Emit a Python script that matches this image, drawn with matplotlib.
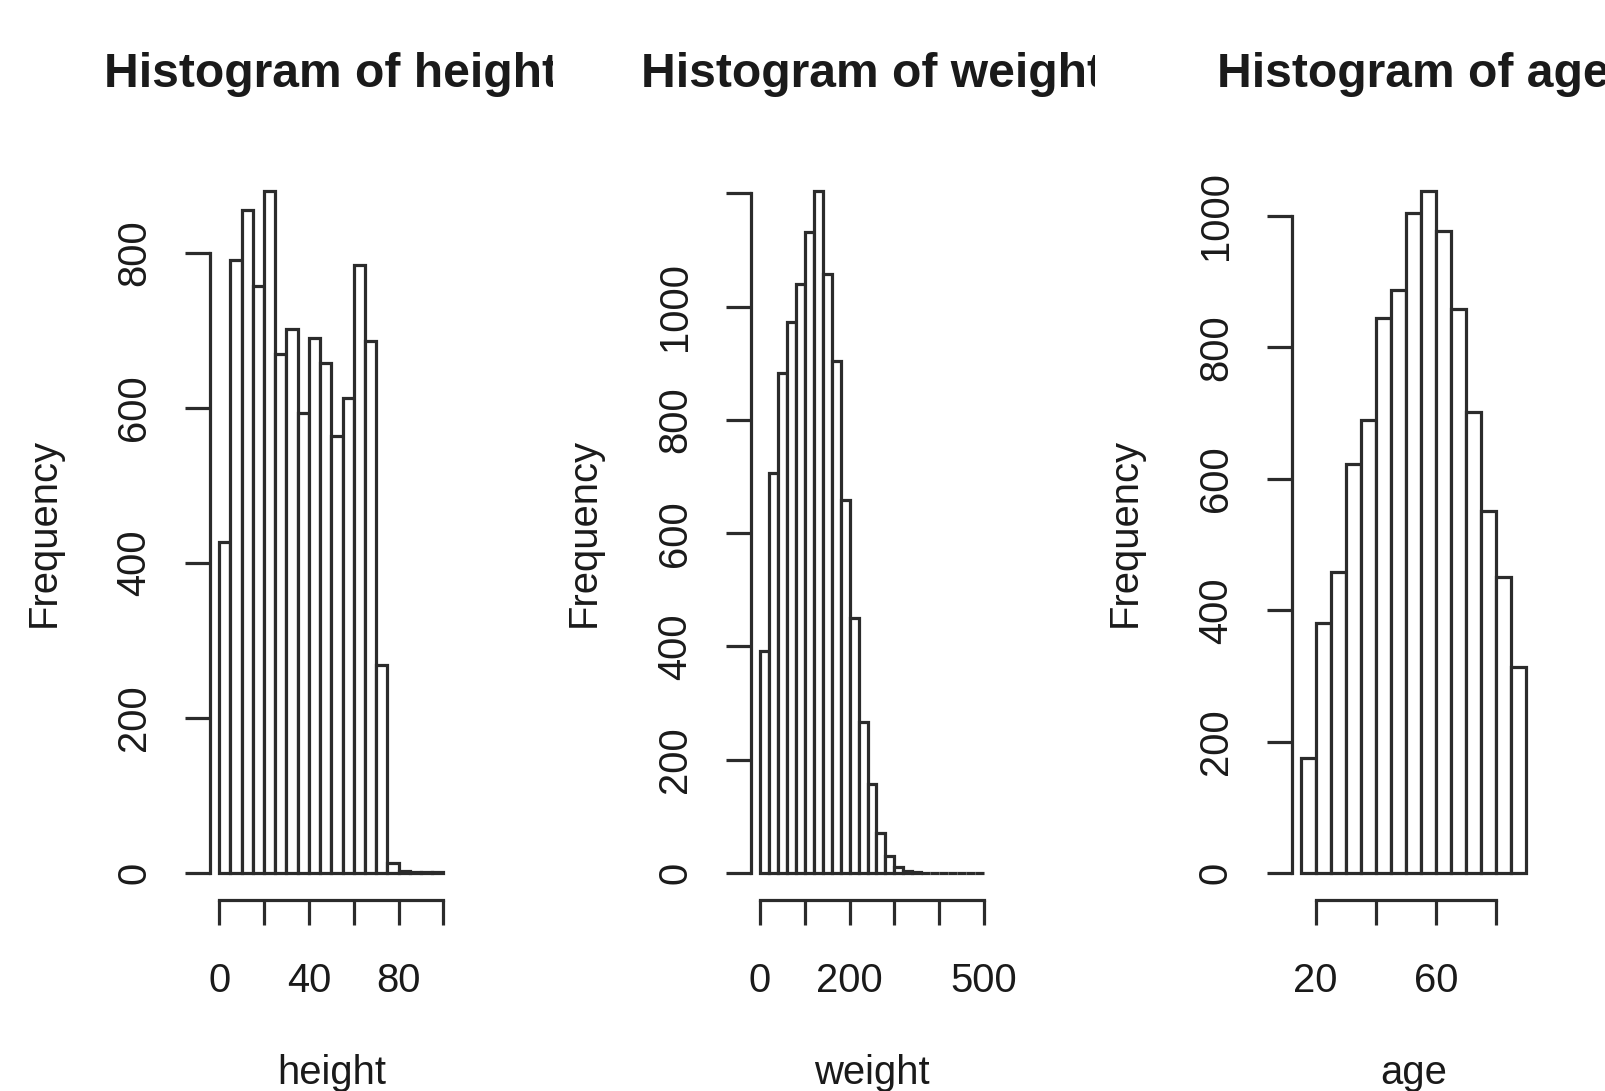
import matplotlib
matplotlib.use("Agg")
import matplotlib.pyplot as plt
from matplotlib.transforms import Bbox, TransformedBbox

# histogram counts
height_breaks = list(range(0, 105, 5))
height_counts = [427, 791, 856, 758, 880, 670, 702, 593, 690, 658,
                 564, 613, 785, 687, 268, 13, 3, 2, 1, 2]
height_xticks = [0, 20, 40, 60, 80, 100]
height_xlabels = ["0", "", "40", "", "80", ""]
height_yticks = [0, 200, 400, 600, 800]
height_ylabels = ["0", "200", "400", "600", "800"]

weight_breaks = list(range(0, 520, 20))
weight_counts = [392, 706, 883, 973, 1039, 1131, 1204, 1058, 904, 658,
                 451, 266, 158, 71, 31, 10, 4, 2, 1, 1, 1, 0, 1, 0, 1]
weight_xticks = [0, 100, 200, 300, 400, 500]
weight_xlabels = ["0", "", "200", "", "", "500"]
weight_yticks = [0, 200, 400, 600, 800, 1000, 1200]
weight_ylabels = ["0", "200", "400", "600", "800", "1000", ""]

age_breaks = list(range(15, 95, 5))
age_counts = [175, 381, 458, 623, 689, 845, 888, 1005, 1038, 977,
              858, 702, 551, 451, 314]
age_xticks = [20, 40, 60, 80]
age_xlabels = ["20", "", "60", ""]
age_yticks = [0, 200, 400, 600, 800, 1000]
age_ylabels = ["0", "200", "400", "600", "800", "1000"]

W, H = 1605, 1091
fig = plt.figure(figsize=(W / 100, H / 100), dpi=100)
plt.rcParams["font.family"] = ["Liberation Sans", "DejaVu Sans"]

ink = "#1a1a1a"
edge = "#2b2b2b"
axfs = 28.8
titlefs = 34.6

panels = [
    ("height", height_breaks, height_counts, height_xticks, height_xlabels,
     height_yticks, height_ylabels, 210.3, 452.3, 0, 553),
    ("weight", weight_breaks, weight_counts, weight_xticks, weight_xlabels,
     weight_yticks, weight_ylabels, 751, 993, 553, 1095),
    ("age", age_breaks, age_counts, age_xticks, age_xlabels,
     age_yticks, age_ylabels, 1291.7, 1535, 1095, 1605),
]
top_px, bot_px = 163.7, 900.4

for name, brk, cnt, xt, xl, yt, yl, x0, x1, c0, c1 in panels:
    ax = fig.add_axes([x0 / W, 1 - bot_px / H, (x1 - x0) / W, (bot_px - top_px) / H])
    width = brk[1] - brk[0]
    ax.bar(brk[:-1], cnt, width=width, align="edge", facecolor="white",
           edgecolor=edge, linewidth=2.3)
    lo, hi = brk[0], brk[-1]
    ax.set_xlim(lo - 0.04 * (hi - lo), hi + 0.04 * (hi - lo))
    m = max(cnt)
    ax.set_ylim(-0.04 * m, 1.04 * m)

    ax.set_xticks(xt)
    ax.set_xticklabels(xl)
    ax.set_yticks(yt)
    ax.set_yticklabels(yl)
    for s in ["top", "right"]:
        ax.spines[s].set_visible(False)
    ax.spines["bottom"].set_bounds(xt[0], xt[-1])
    ax.spines["left"].set_bounds(yt[0], yt[-1])
    for s in ["bottom", "left"]:
        ax.spines[s].set_linewidth(2.3)
        ax.spines[s].set_color(edge)
    ax.tick_params(axis="both", length=18, width=2.3, color=edge,
                   labelsize=axfs, labelcolor=ink)
    ax.tick_params(axis="x", pad=26)
    ax.tick_params(axis="y", pad=23)
    for lab in ax.get_yticklabels():
        lab.set_rotation(90)
        lab.set_va("center")

    cx = ((x0 + x1) / 2) / W
    fig.text(cx, 1 - 1073 / H, name, ha="center", va="center",
             fontsize=axfs, color=ink)
    ax.text(-167 / (x1 - x0), 0.5, "Frequency", transform=ax.transAxes,
            rotation=90, ha="center", va="center", fontsize=axfs, color=ink)
    t = fig.text(cx, 1 - 87 / H, "Histogram of " + name, ha="center",
                 va="baseline", fontsize=titlefs, fontweight="bold", color=ink)
    t.set_clip_on(True)
    t.set_clip_box(TransformedBbox(Bbox.from_extents(c0 / W, 0, c1 / W, 1),
                                   fig.transFigure))

fig.savefig("out.png", dpi=100)
